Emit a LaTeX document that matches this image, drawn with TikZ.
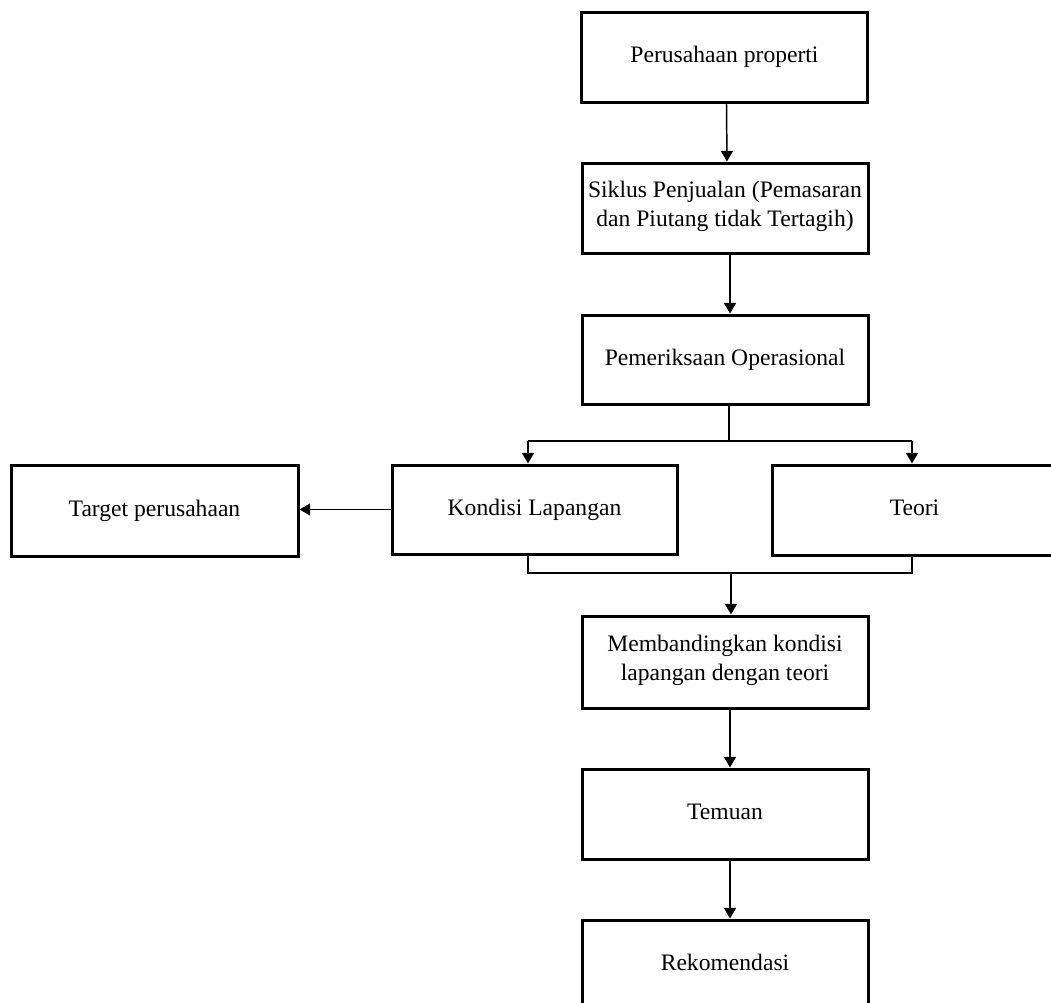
\documentclass[tikz,border=0pt]{standalone}
\usepackage{fontspec}
\setmainfont{Liberation Serif}
\usetikzlibrary{arrows.meta,calc}
\begin{document}
\begin{tikzpicture}[x=0.75pt,y=-0.75pt,
  box/.style={draw, line width=2.25pt, inner sep=0pt, align=center,
    font=\fontsize{17.7}{21.5}\selectfont,
    execute at begin node={\strut}, execute at end node={\strut},
    minimum width=286*0.75pt, minimum height=90*0.75pt},
  conn/.style={line width=1.1pt},
  arr/.style={conn, -{Triangle[length=8pt,width=9pt]}}]
\useasboundingbox (0,0) rectangle (1051,1003);
\node[box] (b1) at (724.5,57) {Perusahaan properti};
\node[box] (b2) at (725,208) {Siklus Penjualan (Pemasaran\\dan Piutang tidak Tertagih)};
\node[box, minimum height=89*0.75pt] (b3) at (725,359.5) {Pemeriksaan Operasional};
\node[box, minimum width=287*0.75pt, minimum height=91*0.75pt] (b4) at (154.5,510.5) {Target perusahaan};
\node[box, minimum width=285*0.75pt, minimum height=89*0.75pt] (b5) at (534.5,509.5) {Kondisi Lapangan};
\node[box, minimum width=285*0.75pt] (b6) at (914.5,510) {Teori};
\node[box, minimum height=92*0.75pt] (b7) at (725,662) {Membandingkan kondisi\\lapangan dengan teori};
\node[box] (b8) at (725,814) {Temuan};
\node[box] (b9) at (725,965) {Rekomendasi};
% connectors
\draw[arr] ([xshift=1.5pt]b1.south) -- ([xshift=1.5pt]b2.north);
\draw[arr] ([xshift=3.75pt]b2.south) -- ([xshift=3.75pt]b3.north);
\coordinate (bl) at (528,441);
\coordinate (br) at (912,441);
\draw[conn] ([xshift=3pt]b3.south) |- (bl);
\draw[conn] (bl) -- (br);
\draw[arr] (bl) -- (bl |- b5.north);
\draw[arr] (br) -- (br |- b6.north);
\draw[arr] (b5.west) -- (b5.west -| b4.east);
\coordinate (jl) at (528,573);
\coordinate (jr) at (912,573);
\coordinate (jm) at (731,573);
\draw[conn] (jl |- b5.south) -- (jl) -- (jr) -- (jr |- b6.south);
\draw[arr] (jm) -- (jm |- b7.north);
\draw[arr] ([xshift=3.75pt]b7.south) -- ([xshift=3.75pt]b8.north);
\draw[arr] ([xshift=3.75pt]b8.south) -- ([xshift=3.75pt]b9.north);
\end{tikzpicture}
\end{document}
